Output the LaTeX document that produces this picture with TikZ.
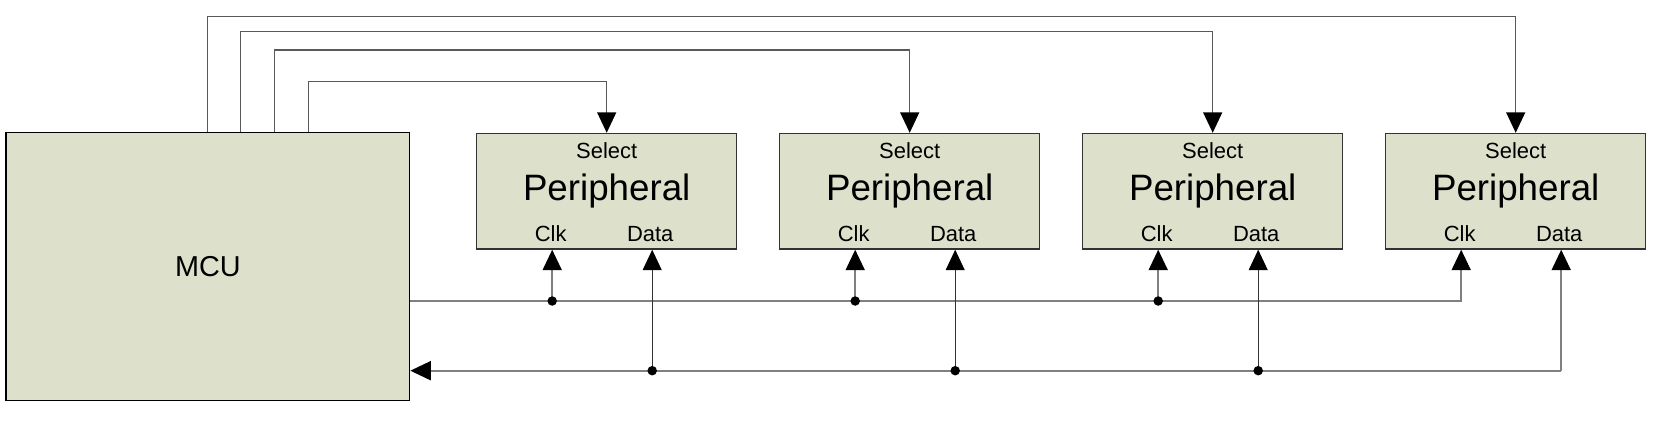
\documentclass[tikz,border=0pt]{standalone}
\usepackage{fontspec}
\setmainfont{Liberation Sans}
\usetikzlibrary{arrows.meta}
\definecolor{boxfill}{RGB}{221,225,204}
\definecolor{wiregray}{RGB}{128,128,128}
\tikzset{
  block/.style={draw=black!80, line width=0.8pt, fill=boxfill, minimum width=5.2cm, minimum height=2.31cm, inner sep=0pt, font=\fontsize{20.9}{24}\selectfont},
  pin/.style={font=\fontsize{12.5}{15}\selectfont, anchor=base, inner sep=0pt},
  wire/.style={draw=wiregray, line width=1.1pt},
  sel/.style={draw=black!65, line width=0.85pt},
  tap/.style={draw=black!80, line width=0.6pt},
  tip/.style={-{Triangle[length=0.41cm, width=0.38cm, color=black]}},
  dot/.style={circle, fill=black, inner sep=0pt, minimum size=0.19cm}
}
\begin{document}
\begin{tikzpicture}
\useasboundingbox (0,0) rectangle (33.3,8.68);
% blocks
\node[block, draw=black, minimum width=8.07cm, minimum height=5.36cm, anchor=south west, font=\fontsize{16.4}{19}\selectfont] (mcu) at (0.108,0.66) {MCU};
\node[block] (p1) at (12.134,4.855) {Peripheral};
\node[block] (p2) at (18.194,4.855) {Peripheral};
\node[block] (p3) at (24.254,4.855) {Peripheral};
\node[block] (p4) at (30.314,4.855) {Peripheral};
% pin labels
\node[pin] (s1) at ([yshift=-0.516cm]p1.north) {Select};
\node[pin] (s2) at ([yshift=-0.516cm]p2.north) {Select};
\node[pin] (s3) at ([yshift=-0.516cm]p3.north) {Select};
\node[pin] (s4) at ([yshift=-0.516cm]p4.north) {Select};
\node[pin] (k1) at ([xshift=-1.12cm, yshift=0.17cm]p1.south) {Clk};
\node[pin] (k2) at ([xshift=-1.12cm, yshift=0.17cm]p2.south) {Clk};
\node[pin] (k3) at ([xshift=-1.12cm, yshift=0.17cm]p3.south) {Clk};
\node[pin] (k4) at ([xshift=-1.12cm, yshift=0.17cm]p4.south) {Clk};
\node[pin] (t1) at ([xshift=0.87cm, yshift=0.17cm]p1.south) {Data};
\node[pin] (t2) at ([xshift=0.87cm, yshift=0.17cm]p2.south) {Data};
\node[pin] (t3) at ([xshift=0.87cm, yshift=0.17cm]p3.south) {Data};
\node[pin] (t4) at ([xshift=0.87cm, yshift=0.17cm]p4.south) {Data};
% pins and buses
\coordinate (c1) at ([xshift=-1.09cm]p1.south);
\coordinate (c2) at ([xshift=-1.09cm]p2.south);
\coordinate (c3) at ([xshift=-1.09cm]p3.south);
\coordinate (c4) at ([xshift=-1.09cm]p4.south);
\coordinate (d1) at ([xshift=0.91cm]p1.south);
\coordinate (d2) at ([xshift=0.91cm]p2.south);
\coordinate (d3) at ([xshift=0.91cm]p3.south);
\coordinate (d4) at ([xshift=0.91cm]p4.south);
\coordinate (clkbus) at ([yshift=2cm]mcu.south east);
\coordinate (databus) at ([yshift=0.606cm]mcu.south east);
% select lines
\draw[sel, tip] ([xshift=4.038cm]mcu.north west) -- ++(0,2.306) -| (p4.north);
\draw[sel, tip] ([xshift=4.706cm]mcu.north west) -- ++(0,2.0) -| (p3.north);
\draw[sel, tip] ([xshift=5.386cm]mcu.north west) -- ++(0,1.634) -| (p2.north);
\draw[sel, tip] ([xshift=6.058cm]mcu.north west) -- ++(0,1.0) -| (p1.north);
% clock bus
\draw[wire, tip] (clkbus) -| (c4);
\draw[wire, tip] (c1 |- clkbus) -- (c1);
\draw[wire, tip] (c2 |- clkbus) -- (c2);
\draw[wire, tip] (c3 |- clkbus) -- (c3);
\node[dot] at (c1 |- clkbus) {};
\node[dot] at (c2 |- clkbus) {};
\node[dot] at (c3 |- clkbus) {};
% data bus
\draw[wire, tip] (d4 |- databus) -- (databus);
\draw[wire, tip] (d4 |- databus) -- (d4);
\draw[tap, tip] (d1 |- databus) -- (d1);
\draw[tap, tip] (d2 |- databus) -- (d2);
\draw[tap, tip] (d3 |- databus) -- (d3);
\node[dot] at (d1 |- databus) {};
\node[dot] at (d2 |- databus) {};
\node[dot] at (d3 |- databus) {};
\end{tikzpicture}
\end{document}
